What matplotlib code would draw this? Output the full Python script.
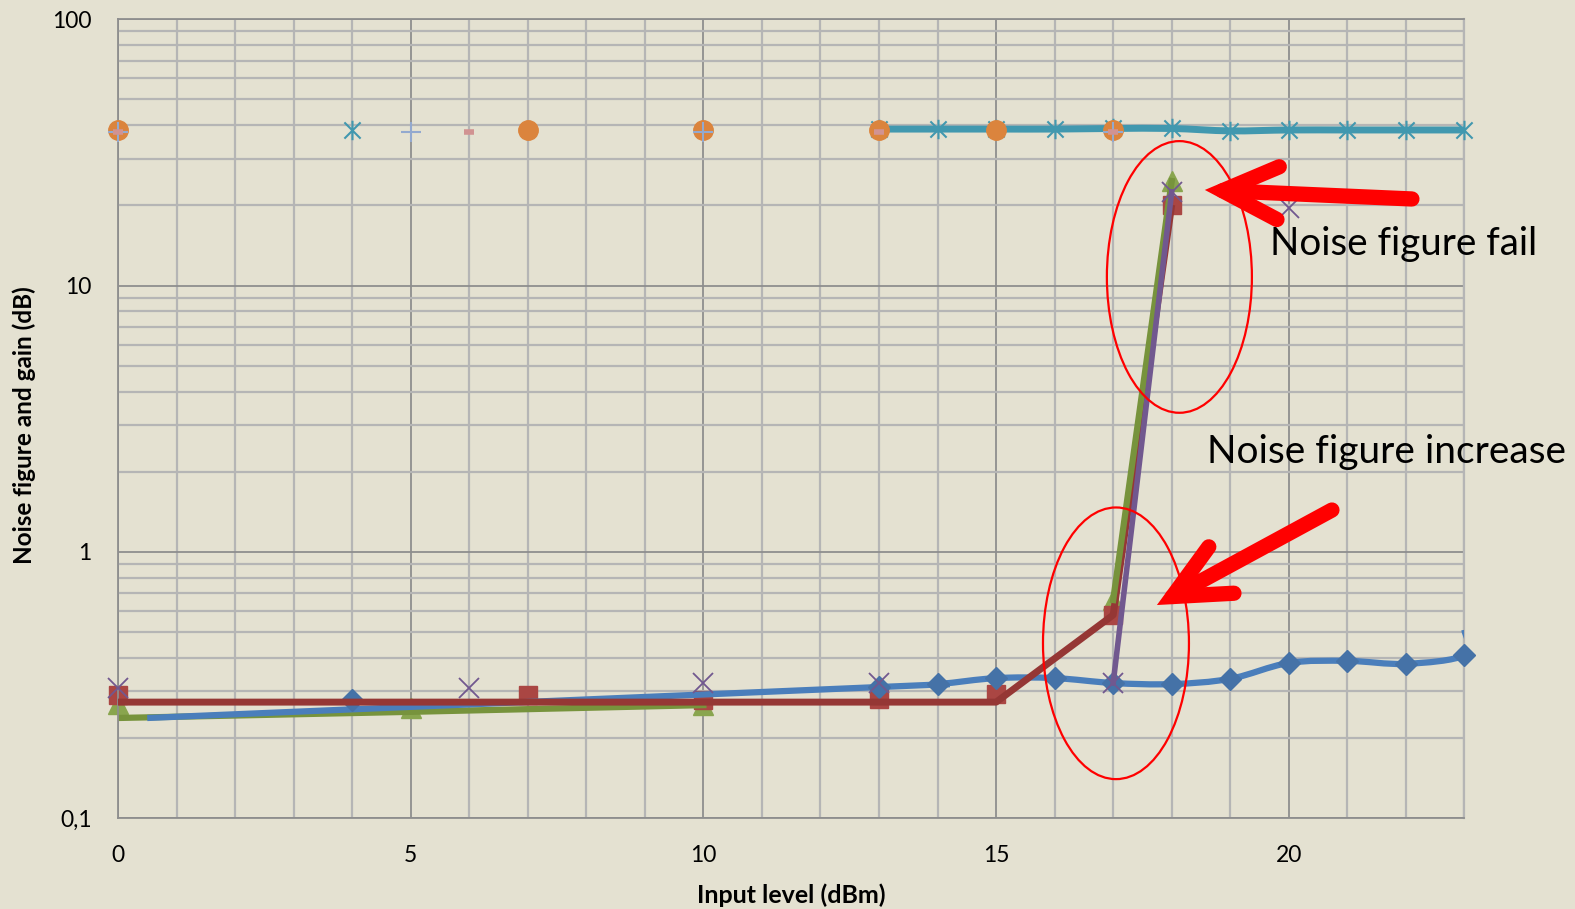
import numpy as np
import matplotlib
matplotlib.use("Agg")
import matplotlib.pyplot as plt
from matplotlib.path import Path
from matplotlib.patches import PathPatch, Ellipse, FancyArrowPatch
from matplotlib.ticker import FixedLocator, FixedFormatter, NullFormatter

plt.rcParams['font.family'] = ['Lato', 'DejaVu Sans']

# Noise figure (NF) and gain measurements versus input level
blue_line_x = [0.5, 13, 14, 15, 16, 17, 18, 19, 20, 21, 22, 23, 23]
blue_line_y = [0.238, 0.311, 0.319, 0.336, 0.336, 0.322, 0.319, 0.334, 0.383, 0.390, 0.380, 0.410, 0.51]
blue_mark_x = [4, 13, 14, 15, 16, 17, 18, 19, 20, 21, 22, 23]
blue_mark_y = [0.278, 0.311, 0.319, 0.336, 0.336, 0.322, 0.319, 0.334, 0.383, 0.390, 0.380, 0.410]

red_line_x = [0, 15, 17, 18]
red_line_y = [0.273, 0.273, 0.580, 20.1]
red_mark_x = [0, 7, 10, 13, 15, 17, 18]
red_mark_y = [0.290, 0.290, 0.278, 0.280, 0.292, 0.580, 20.1]

green_line_x = [0, 5, 10, 11, 17, 18]
green_line_y = [0.238, 0.251, 0.266, np.nan, 0.660, 24.7]
green_mark_x = [0, 5, 10, 17, 18]
green_mark_y = [0.268, 0.259, 0.266, 0.660, 24.7]

purple_x = [0, 6, 10, 13, 17, 18, 20]
purple_y = [0.309, 0.309, 0.322, 0.322, 0.322, 22.5, 19.6]
purple_line_x = [17, 18]
purple_line_y = [0.322, 22.5]

teal_line_x = [13, 14, 15, 16, 17, 18, 19, 20, 21, 22, 23]
teal_line_y = [38.7, 38.7, 38.7, 38.7, 38.9, 38.9, 38.1, 38.4, 38.4, 38.4, 38.4]
teal_mark_x = [4] + teal_line_x
teal_mark_y = [38.4] + teal_line_y

orange_x = [0, 7, 10, 13, 15, 17]
orange_y = [38.4, 38.4, 38.4, 38.4, 38.4, 38.4]
plus_x = [0, 5, 10, 17]
plus_y = [37.8, 37.8, 37.8, 37.8]
dash_x = [0, 6, 13, 17]
dash_y = [37.8, 37.8, 37.8, 37.8]

x_major = [0, 5, 10, 15, 20]
y_major = [0.1, 1, 10, 100]
y_tick_labels = ['0,1', '1', '10', '100']

bg = '#E4E1D1'
major_grid = '#8E8E8E'
minor_grid = '#B5B5B5'


def smooth_path(xs, ys):
    """Bezier path through the points (Catmull-Rom tangents in x / log10(y))."""
    pts = np.column_stack([np.asarray(xs, float), np.log10(ys)])
    n = len(pts)
    verts = [pts[0]]
    codes = [Path.MOVETO]
    for i in range(n - 1):
        p0 = pts[i - 1] if i > 0 else pts[i]
        p1, p2 = pts[i], pts[i + 1]
        p3 = pts[i + 2] if i + 2 < n else pts[i + 1]
        verts += [p1 + (p2 - p0) / 6, p2 - (p3 - p1) / 6, p2]
        codes += [Path.CURVE4] * 3
    verts = np.array(verts)
    verts[:, 1] = 10 ** verts[:, 1]
    return Path(verts, codes)


fig = plt.figure(figsize=(15.75, 9.09), dpi=100)
fig.patch.set_facecolor(bg)
ax = fig.add_axes([0.0749, 0.0998, 0.8549, 0.8790])
ax.set_facecolor(bg)
ax.set_yscale('log')
ax.set_xlim(0, 23)
ax.set_ylim(0.1, 100)

# grid
ax.xaxis.set_major_locator(FixedLocator(x_major))
ax.xaxis.set_minor_locator(FixedLocator(range(0, 24)))
ax.yaxis.set_major_locator(FixedLocator(y_major))
ax.yaxis.set_major_formatter(FixedFormatter(y_tick_labels))
ax.yaxis.set_minor_formatter(NullFormatter())
ax.grid(which='minor', color=minor_grid, lw=1.6, zorder=0)
ax.grid(which='major', color=major_grid, lw=1.3, zorder=0.5)
ax.set_axisbelow(True)
for side in ['left', 'bottom', 'top']:
    ax.spines[side].set_color(major_grid)
    ax.spines[side].set_linewidth(1.3)
ax.spines['right'].set_color(minor_grid)
ax.spines['right'].set_linewidth(1.6)
ax.tick_params(which='both', length=0)
ax.tick_params(axis='y', labelsize=16.5, pad=19)
ax.tick_params(axis='x', labelsize=16.5, pad=19)

# series
mk = dict(ls='none', clip_on=False)
ax.plot(green_mark_x, green_mark_y, marker='^', ms=14, color='#89A54E', zorder=2, **mk)
ax.plot(red_mark_x, red_mark_y, marker='s', ms=13, color='#AA4643', zorder=2.2, **mk)
# low part of the green trace sits under the blue one, the jump sits over the red one
ax.plot(green_line_x[:3], green_line_y[:3], color='#77933C', lw=4.5, zorder=2.4)
ax.plot(green_line_x[4:], green_line_y[4:], color='#77933C', lw=4.5, zorder=4.2)
ax.add_patch(PathPatch(smooth_path(blue_line_x, blue_line_y), fill=False,
                       edgecolor='#4A7EBB', lw=4.5, zorder=3, capstyle='butt'))
ax.plot(blue_mark_x, blue_mark_y, marker='D', ms=11, color='#4572A7', zorder=3.1, **mk)
ax.plot(red_line_x, red_line_y, color='#953735', lw=5, zorder=4, solid_capstyle='butt')
ax.plot(purple_line_x, purple_line_y, color='#71588F', lw=4, zorder=4.5)
ax.plot(purple_x, purple_y, marker='x', ms=14, mew=1.3, color='#71588F', zorder=5, **mk)

star = Path([(-1, -1), (1, 1), (-1, 1), (1, -1), (0, -1.2), (0, 1.2)],
            [Path.MOVETO, Path.LINETO, Path.MOVETO, Path.LINETO, Path.MOVETO, Path.LINETO])
ax.add_patch(PathPatch(smooth_path(teal_line_x, teal_line_y), fill=False,
                       edgecolor='#4198AF', lw=5, zorder=6))
ax.plot(teal_mark_x, teal_mark_y, marker=star, ms=14, mew=1.5, color='#4198AF', zorder=6.1, **mk)
ax.plot(orange_x, orange_y, marker='o', ms=14, color='#DB843D', zorder=7, **mk)
ax.plot(plus_x, plus_y, marker='+', ms=14, mew=1.5, color='#93A9CF', zorder=7.6, **mk)
ax.plot(dash_x, dash_y, marker='_', ms=7, mew=4, color='#D19392', zorder=8, **mk)

ax.set_xlim(0, 23)
ax.set_ylim(0.1, 100)

# axis titles
ax.set_xlabel('Input level (dBm)', fontsize=18, fontweight='bold', va='baseline')
ax.xaxis.set_label_coords(0.5, -0.1056)
ax.set_ylabel('Noise figure and gain (dB)', fontsize=17.5, fontweight='bold', va='baseline')
ax.yaxis.set_label_coords(-0.0635, 0.492)

# highlight ellipses and arrows
for cx, cy, w, h in [(0.7883, 0.6775, 0.1077, 0.3400), (0.7412, 0.2190, 0.1084, 0.3400)]:
    ax.add_patch(Ellipse((cx, cy), w, h, transform=ax.transAxes, fill=False,
                         edgecolor='#FF0000', lw=1.6, zorder=10, clip_on=False))

for tail, tip in [((0.9610, 0.7751), (0.8072, 0.7864)),
                  ((0.9016, 0.3858), (0.7716, 0.2669))]:
    arr = FancyArrowPatch(tail, tip, transform=ax.transAxes,
                          arrowstyle='->,head_length=40,head_width=19', mutation_scale=1,
                          color='#FF0000', lw=11, shrinkA=0, shrinkB=0,
                          capstyle='round', joinstyle='miter', zorder=11, clip_on=False)
    ax.add_patch(arr)

fig.text(1270 / 1575, 1 - 255 / 909, 'Noise figure fail', fontsize=27.8, va='baseline', ha='left')
fig.text(1207 / 1575, 1 - 463 / 909, 'Noise figure increase', fontsize=28, va='baseline', ha='left')

fig.savefig('out.png', dpi=100, facecolor=bg)
